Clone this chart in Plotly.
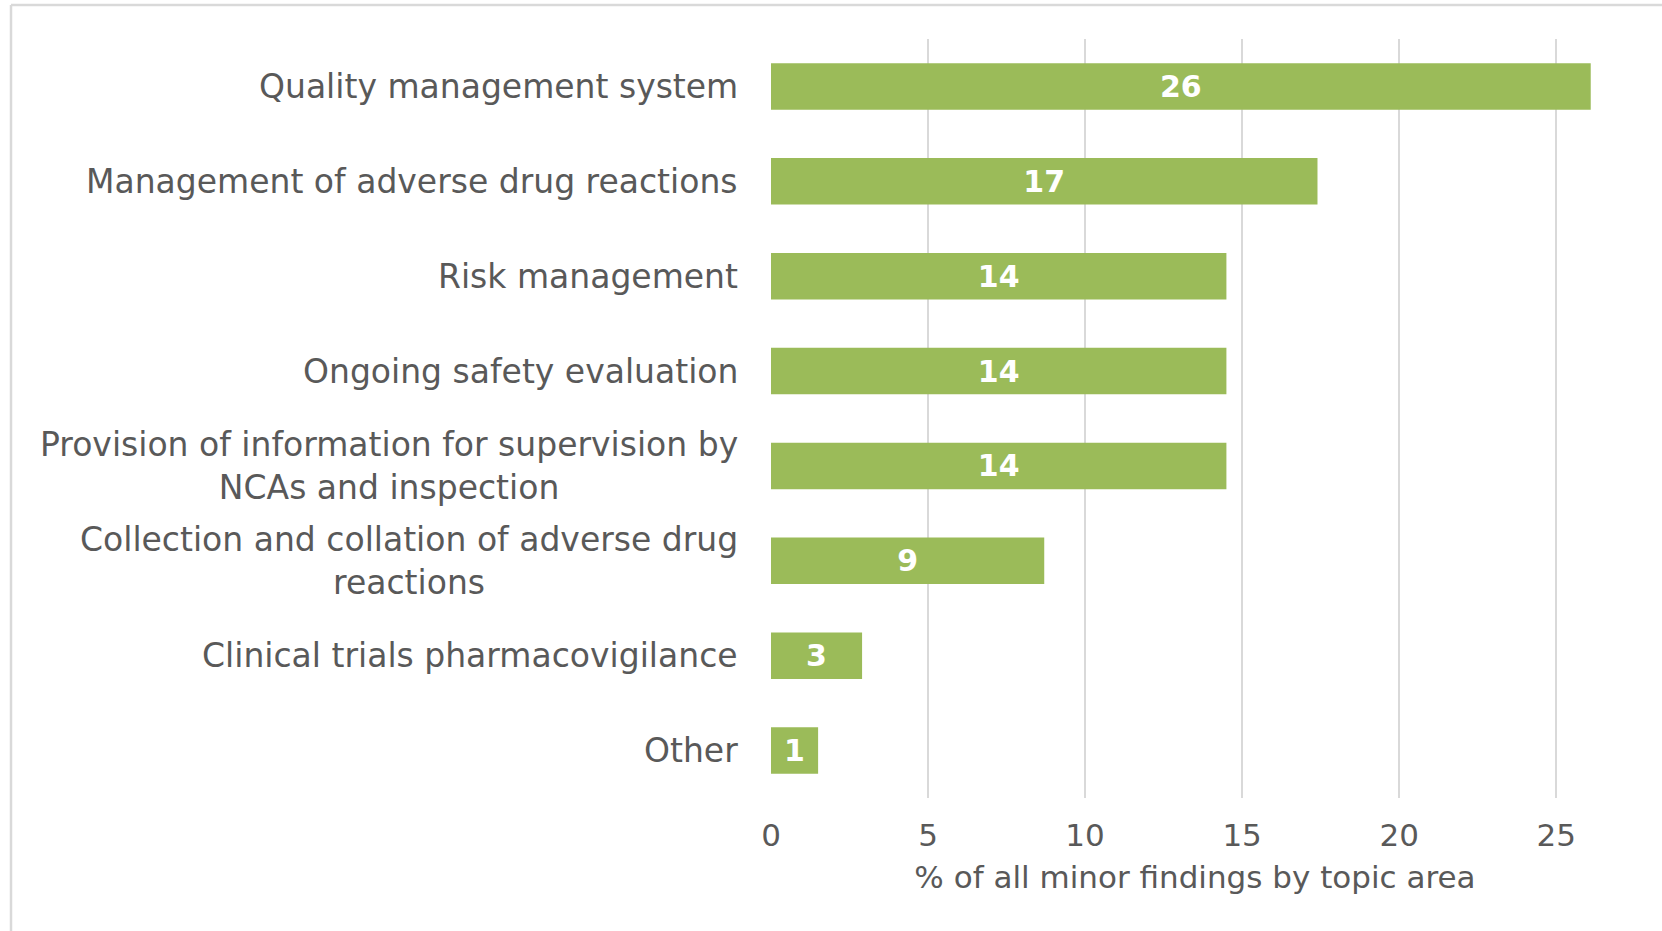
import plotly.graph_objects as go

categories = [
    "Quality management system",
    "Management of adverse drug reactions",
    "Risk management",
    "Ongoing safety evaluation",
    "Provision of information for supervision by<br>NCAs and inspection",
    "Collection and collation of adverse drug<br>reactions",
    "Clinical trials pharmacovigilance",
    "Other",
]
values = [26.1, 17.4, 14.5, 14.5, 14.5, 8.7, 2.9, 1.5]
value_labels = ["26", "17", "14", "14", "14", "9", "3", "1"]
x_ticks = [0, 5, 10, 15, 20, 25]
x_title = "% of all minor findings by topic area"

FONT = "DejaVu Sans"
GRAY = "#595959"
GREEN = "#9BBB59"

W, H = 1662, 931
L, R, T, B = 771, 43, 39, 133
pw, ph = W - L - R, H - T - B

fig = go.Figure()
fig.add_trace(go.Bar(
    x=values,
    y=list(range(len(categories))),
    orientation="h",
    marker=dict(color=GREEN, line=dict(width=0)),
    text=value_labels,
    texttemplate="%{text}",
    textposition="inside",
    insidetextanchor="middle",
    textangle=0,
    insidetextfont=dict(family=FONT, size=30, color="white", weight="bold"),
    hoverinfo="skip",
))

for i, c in enumerate(categories):
    fig.add_annotation(
        x=0, xref="paper", y=i, yref="y",
        text=c, showarrow=False, xanchor="right", yanchor="middle",
        align="center", xshift=-31,
        font=dict(family=FONT, size=33, color=GRAY),
    )

# outer frame (top and left edges visible)
fig.add_shape(type="line", xref="paper", yref="paper",
              x0=(11 - L) / pw, x1=(W + 5 - L) / pw,
              y0=(H - B - 5) / ph, y1=(H - B - 5) / ph,
              line=dict(color="#D9D9D9", width=2.5))
fig.add_shape(type="line", xref="paper", yref="paper",
              x0=(11 - L) / pw, x1=(11 - L) / pw,
              y0=(H - B - 5) / ph, y1=(H - B - H - 5) / ph,
              line=dict(color="#D9D9D9", width=2.5))

fig.update_layout(
    width=W, height=H,
    margin=dict(l=L, r=R, t=T, b=B, pad=0),
    paper_bgcolor="white", plot_bgcolor="white",
    showlegend=False,
    bargap=0.51,
    font=dict(family=FONT, color=GRAY, size=32),
    xaxis=dict(
        range=[0, 27], tickvals=x_ticks, ticktext=[str(t) for t in x_ticks],
        showgrid=True, gridcolor="#D9D9D9", gridwidth=1.5,
        zeroline=False, showline=False, ticks="",
        ticklabelstandoff=16,
        tickfont=dict(family=FONT, size=31, color=GRAY),
        title=dict(text=x_title, standoff=14,
                   font=dict(family=FONT, size=31, color=GRAY)),
    ),
    yaxis=dict(
        range=[len(categories) - 0.5, -0.5],
        showticklabels=False, showgrid=False, zeroline=False, ticks="",
    ),
)

fig.write_html("out.html")
